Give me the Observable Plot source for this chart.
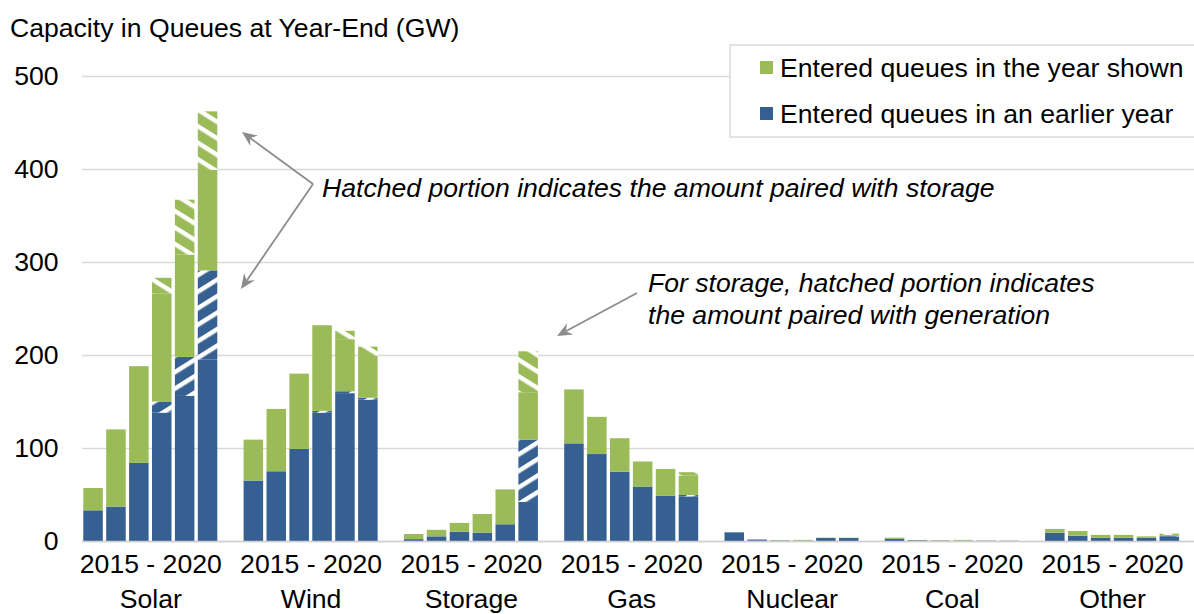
<!DOCTYPE html>
<html><head><meta charset="utf-8">
<script src="https://cdn.jsdelivr.net/npm/d3@7"></script>
<script src="https://cdn.jsdelivr.net/npm/@observablehq/plot@0.6"></script>
<style>html,body{margin:0;padding:0;background:#fff;} #chart svg{display:block;}</style>
</head><body><div id="chart"></div>
<script>
const categories = ["Solar","Wind","Storage","Gas","Nuclear","Coal","Other"];
const years = [2015,2016,2017,2018,2019,2020];
const yTicks = [0,100,200,300,400,500];
const yearRangeLabel = "2015 - 2020";
const yTitle = "Capacity in Queues at Year-End (GW)";
const legendLabels = ["Entered queues in the year shown","Entered queues in an earlier year"];
const note1 = "Hatched portion indicates the amount paired with storage";
const note2 = ["For storage, hatched portion indicates","the amount paired with generation"];

// GW, rows = categories, columns = years 2015..2020
const earlierSolid = [
  [33,37,84,138,156,195],
  [65,75,99,138,159,152],
  [2,5,10,9,18,42],
  [105,93.5,74.5,58.5,48.5,48],
  [9.3,1,0.5,0.3,3.2,3.2],
  [2.5,0.8,0.3,0.3,0.3,0.2],
  [9,5.7,3.6,3.6,3.6,5]
];
const earlierHatched = [
  [0,0,0,12,42,96],
  [0,0,0,2,2,2],
  [0,0,0,0,0,67],
  [0,0,0,0,0,1.5],
  [0,0,0,0,0,0],
  [0,0,0,0,0,0],
  [0,0,0,0,0,0.5]
];
const newSolid = [
  [24,83,104,116,110,108],
  [44,67,81,92,56,45],
  [5.5,7,9.5,20,37.5,51],
  [58,40,36,27,29,21],
  [0,1,0.5,0.9,0.4,0.3],
  [1.1,0.3,0.7,0.9,0.2,0.2],
  [4,5,3,3,1.4,1]
];
const newHatched = [
  [0,0,0,17,59,63],
  [0,0,0,0,9,10],
  [0,0,0,0,0,44],
  [0,0,0,0,0,3.5],
  [0,0,0,0,0,0],
  [0,0,0,0,0,0],
  [0,0,0,0,0,1.5]
];

const BLUE = "#376092", GREEN = "#9BBB59";
const segNames = ["earlier","earlierHatched","new","newHatched"];
const segFills = [BLUE, "url(#hatchBlue)", GREEN, "url(#hatchGreen)"];
const segData = [earlierSolid, earlierHatched, newSolid, newHatched];

const slotKeys = [];
categories.forEach((c,i) => {
  years.forEach(y => slotKeys.push(c + " " + y));
  if (i < categories.length - 1) slotKeys.push(c + " gap");
});

const rows = [];
categories.forEach((c,ci) => years.forEach((y,yi) => segNames.forEach((s,si) => {
  rows.push({key: c + " " + y, cat: c, year: y, seg: s, value: segData[si][ci][yi]});
})));

const FONT = "'Liberation Sans', Arial, Helvetica, sans-serif";
const FS = 26.6;

const plot = Plot.plot({
  width: 1194, height: 614,
  marginLeft: 82, marginRight: 0, marginTop: 76, marginBottom: 73,
  style: {fontFamily: FONT, fontSize: FS + "px", color: "#000", background: "#fff", overflow: "visible"},
  x: {domain: slotKeys, range: [83.3, 1179.1], paddingInner: 0.148, paddingOuter: 0, axis: null},
  y: {domain: [0, 500]},
  color: {domain: segNames, range: segFills},
  marks: [
    Plot.gridY(yTicks, {stroke: "#d9d9d9", strokeOpacity: 1, strokeWidth: 1.5}),
    Plot.axisY(yTicks, {tickSize: 0, tickPadding: 24, fontSize: FS, label: null, fill: "#000"}),
    Plot.barY(rows, {x: "key", y: "value", fill: "seg", order: segNames}),
    Plot.ruleY([0], {stroke: "#d0d0d0", strokeWidth: 1.5}),
    Plot.text(categories, {x: d => d + " 2017", y: () => 0, text: () => yearRangeLabel, dx: 11.45, dy: 23, fontSize: FS, fill: "#000"}),
    Plot.text(categories, {x: d => d + " 2017", y: () => 0, text: d => d, dx: 11.45, dy: 58, fontSize: FS, fill: "#000"})
  ]
});

document.getElementById("chart").appendChild(plot);

const svg = d3.select(plot);
const defs = svg.insert("defs", ":first-child");
function hatch(id, bg, angle) {
  const p = defs.append("pattern").attr("id", id)
    .attr("patternUnits", "userSpaceOnUse")
    .attr("width", 14).attr("height", 14)
    .attr("patternTransform", `rotate(${angle})`);
  p.append("rect").attr("width", 14).attr("height", 14).attr("fill", bg);
  p.append("rect").attr("y", 0).attr("width", 14).attr("height", 4.5).attr("fill", "#fff");
}
hatch("hatchGreen", GREEN, 32);
hatch("hatchBlue", BLUE, -32);

const over = svg.append("g").attr("text-anchor", "start").attr("font-family", FONT)
  .attr("font-size", FS).attr("fill", "#000");

// title
over.append("text").attr("x", 10).attr("y", 37).text(yTitle);

// legend
const lg = over.append("g");
lg.append("rect").attr("x", 730).attr("y", 45).attr("width", 470).attr("height", 92)
  .attr("fill", "#fff").attr("stroke", "#d9d9d9").attr("stroke-width", 1.5);
[[GREEN, 61, 77], [BLUE, 107, 123]].forEach(([c, sy, ty], i) => {
  lg.append("rect").attr("x", 760).attr("y", sy).attr("width", 13).attr("height", 13).attr("fill", c);
  lg.append("text").attr("x", 780).attr("y", ty).attr("fill", "#000").text(legendLabels[i]);
});

// annotations
const ann = over.append("g");
function arrow(x1, y1, x2, y2) {
  const dx = x2 - x1, dy = y2 - y1, L = Math.hypot(dx, dy);
  const ux = dx / L, uy = dy / L, px = -uy, py = ux;
  const hl = 15, hw = 6.5, notch = 10;
  ann.append("line").attr("x1", x1).attr("y1", y1)
    .attr("x2", x2 - ux * notch).attr("y2", y2 - uy * notch)
    .attr("stroke", "#8c8c8c").attr("stroke-width", 1.8);
  const pts = [
    [x2, y2],
    [x2 - ux * hl + px * hw, y2 - uy * hl + py * hw],
    [x2 - ux * notch, y2 - uy * notch],
    [x2 - ux * hl - px * hw, y2 - uy * hl - py * hw]
  ];
  ann.append("polygon").attr("points", pts.map(p => p.join(",")).join(" ")).attr("fill", "#8c8c8c");
}
arrow(313, 184, 242, 132);
arrow(313, 184, 241, 289);
arrow(637, 293, 557, 336);

ann.append("text").attr("x", 322).attr("y", 197).attr("font-style", "italic").text(note1);
note2.forEach((t, i) => {
  ann.append("text").attr("x", 648).attr("y", 292 + i * 32).attr("font-style", "italic").text(t);
});
</script>
</body></html>
